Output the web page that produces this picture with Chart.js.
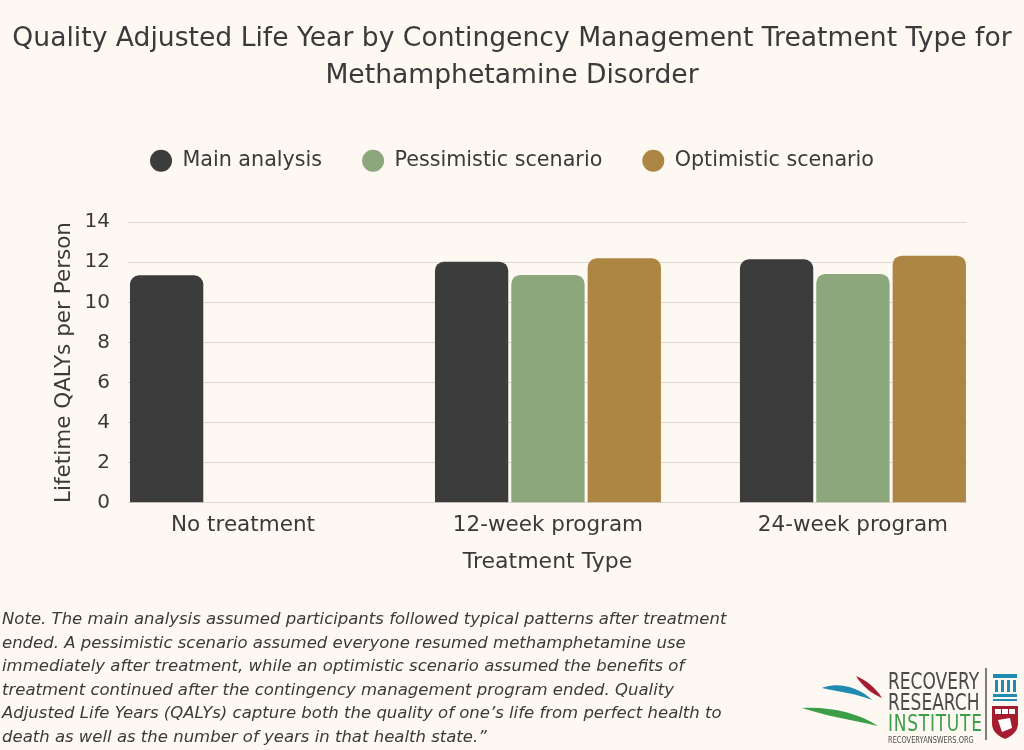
<!DOCTYPE html>
<html>
<head>
<meta charset="utf-8">
<script src="https://cdn.jsdelivr.net/npm/chart.js@4.4.1/dist/chart.umd.min.js"></script>
<style>
  html, body { margin: 0; padding: 0; background: #fdf8f2; }
  #wrap { position: relative; width: 1024px; height: 750px; overflow: hidden; }
  #qalyChart { position: absolute; left: 0; top: 0; }
  #note {
    position: absolute; left: 2px; top: 607px; width: 780px;
    font-family: "DejaVu Sans", sans-serif; font-style: italic;
    font-size: 16.5px; line-height: 23.6px; color: #3a3a3a;
  }
  #logo { position: absolute; left: 796px; top: 662px; width: 228px; height: 88px; }
  .rri { position: absolute; left: 92px; font-family: "DejaVu Sans", sans-serif;
         transform-origin: left top; transform: scaleX(0.74); white-space: nowrap; color: #4a4a4a; }
</style>
</head>
<body>
<div id="wrap">
  <canvas id="qalyChart" width="1024" height="750"></canvas>
  <div id="note">Note. The main analysis assumed participants followed typical patterns after treatment<br>ended. A pessimistic scenario assumed everyone resumed methamphetamine use<br>immediately after treatment, while an optimistic scenario assumed the benefits of<br>treatment continued after the contingency management program ended. Quality<br>Adjusted Life Years (QALYs) capture both the quality of one’s life from perfect health to<br>death as well as the number of years in that health state.”</div>
  <div id="logo">
    <svg width="228" height="88" style="position:absolute;left:0;top:0">
      <path d="M26 26 C40 20, 62 24, 76 38 C62 32, 44 30, 26 26 Z" fill="#1f8bb0"/>
      <path d="M60 14 C70 18, 80 26, 86 36 C76 32, 66 24, 60 14 Z" fill="#a51c30"/>
      <path d="M6 46 C30 44, 62 50, 82 64 C56 58, 30 54, 6 46 Z" fill="#3d9e48"/>
      <line x1="190" y1="6" x2="190" y2="78" stroke="#555" stroke-width="1.5"/>
      <rect x="197" y="12" width="24" height="4" fill="#1f8bb0"/>
      <rect x="199" y="18" width="3" height="12" fill="#1f8bb0"/>
      <rect x="205" y="18" width="3" height="12" fill="#1f8bb0"/>
      <rect x="211" y="18" width="3" height="12" fill="#1f8bb0"/>
      <rect x="217" y="18" width="3" height="12" fill="#1f8bb0"/>
      <rect x="197" y="32" width="24" height="3" fill="#1f8bb0"/>
      <rect x="197" y="37" width="24" height="2" fill="#1f8bb0"/>
      <path d="M196 44 H222 V62 C222 70, 214 75, 209 77 C204 75, 196 70, 196 62 Z" fill="#a51c30"/>
      <rect x="199" y="47" width="6" height="5" fill="#fff"/>
      <rect x="206" y="47" width="6" height="5" fill="#fff"/>
      <rect x="213" y="47" width="6" height="5" fill="#fff"/>
      <path d="M202 58 L214 56 L216 66 L206 70 Z" fill="#fff"/>
    </svg>
    <div class="rri" style="top:6px;font-size:23px;">RECOVERY</div>
    <div class="rri" style="top:27px;font-size:23px;">RESEARCH</div>
    <div class="rri" style="top:48px;font-size:23px;color:#3d9e48;letter-spacing:1px;">INSTITUTE</div>
    <div class="rri" style="top:73px;font-size:9px;">RECOVERYANSWERS.ORG</div>
  </div>
</div>
<script>
const categories = ['No treatment', '12-week program', '24-week program'];
const mainAnalysis = [11.35, 12.03, 12.15];
const pessimistic = [null, 11.37, 11.42];
const optimistic = [null, 12.2, 12.33];
const yTicks = [0, 2, 4, 6, 8, 10, 12, 14];

const textColor = '#3a3a3a';
const font = 'DejaVu Sans';

function toPoints(values) {
    return values.map(function(v, i) { return { x: i, y: v }; });
}

// extra space under the legend so the plot starts lower
const legendMargin = {
    id: 'legendMargin',
    beforeInit(chart) {
        const fit = chart.legend.fit;
        chart.legend.fit = function() {
            fit.call(this);
            this.height += 41;
        };
    }
};

const ctx = document.getElementById('qalyChart').getContext('2d');

new Chart(ctx, {
    type: 'bar',
    data: {
        datasets: [
            { label: 'Main analysis', data: toPoints(mainAnalysis), backgroundColor: '#3c3c3c' },
            { label: 'Pessimistic scenario', data: toPoints(pessimistic), backgroundColor: '#8ba77b' },
            { label: 'Optimistic scenario', data: toPoints(optimistic), backgroundColor: '#ac8642' }
        ]
    },
    options: {
        responsive: false,
        animation: false,
        categoryPercentage: 0.751,
        barPercentage: 0.96,
        borderRadius: { topLeft: 9, topRight: 9 },
        borderSkipped: 'start',
        layout: { padding: { left: 0, right: 0, top: 0, bottom: 175 } },
        plugins: {
            title: {
                display: true,
                text: ['Quality Adjusted Life Year by Contingency Management Treatment Type for', 'Methamphetamine Disorder'],
                color: textColor,
                font: { family: font, size: 26.6, weight: 'normal', lineHeight: 1.4 },
                padding: { top: 20, bottom: 16 }
            },
            legend: {
                position: 'top',
                labels: {
                    usePointStyle: true,
                    pointStyle: 'circle',
                    pointStyleWidth: 22,
                    boxHeight: 15.5,
                    padding: 40,
                    color: textColor,
                    font: { family: font, size: 20.7 }
                }
            },
            tooltip: { enabled: false }
        },
        scales: {
            x: {
                type: 'linear',
                offset: false,
                min: -0.377,
                max: 2.374,
                grid: { display: false, drawTicks: false },
                border: { display: false },
                afterBuildTicks: function(scale) {
                    scale.ticks = categories.map(function(c, i) { return { value: i }; });
                },
                ticks: {
                    padding: 10,
                    color: textColor,
                    font: { family: font, size: 21.5 },
                    maxRotation: 0,
                    callback: function(value) { return categories[value]; }
                },
                title: {
                    display: true,
                    text: 'Treatment Type',
                    color: textColor,
                    font: { family: font, size: 22 },
                    padding: { top: 0, bottom: 0 }
                }
            },
            y: {
                min: 0,
                max: 14,
                afterFit: function(scale) { scale.width = 128; },
                afterBuildTicks: function(scale) {
                    scale.ticks = yTicks.map(function(v) { return { value: v }; });
                },
                grid: { color: '#ddd7d1', drawTicks: false },
                border: { display: false },
                ticks: {
                    padding: 18,
                    color: textColor,
                    font: { family: font, size: 20 }
                },
                title: {
                    display: true,
                    text: 'Lifetime QALYs per Person',
                    color: textColor,
                    font: { family: font, size: 21.5 },
                    padding: { top: 52, bottom: 0 }
                }
            },
            // empty right-hand axis: only keeps the plot clear of the right edge
            yRight: {
                position: 'right',
                display: true,
                grid: { display: false, drawTicks: false },
                border: { display: false },
                ticks: { display: false },
                afterFit: function(scale) { scale.width = 57; }
            }
        }
    },
    plugins: [legendMargin]
});
</script>
</body>
</html>
